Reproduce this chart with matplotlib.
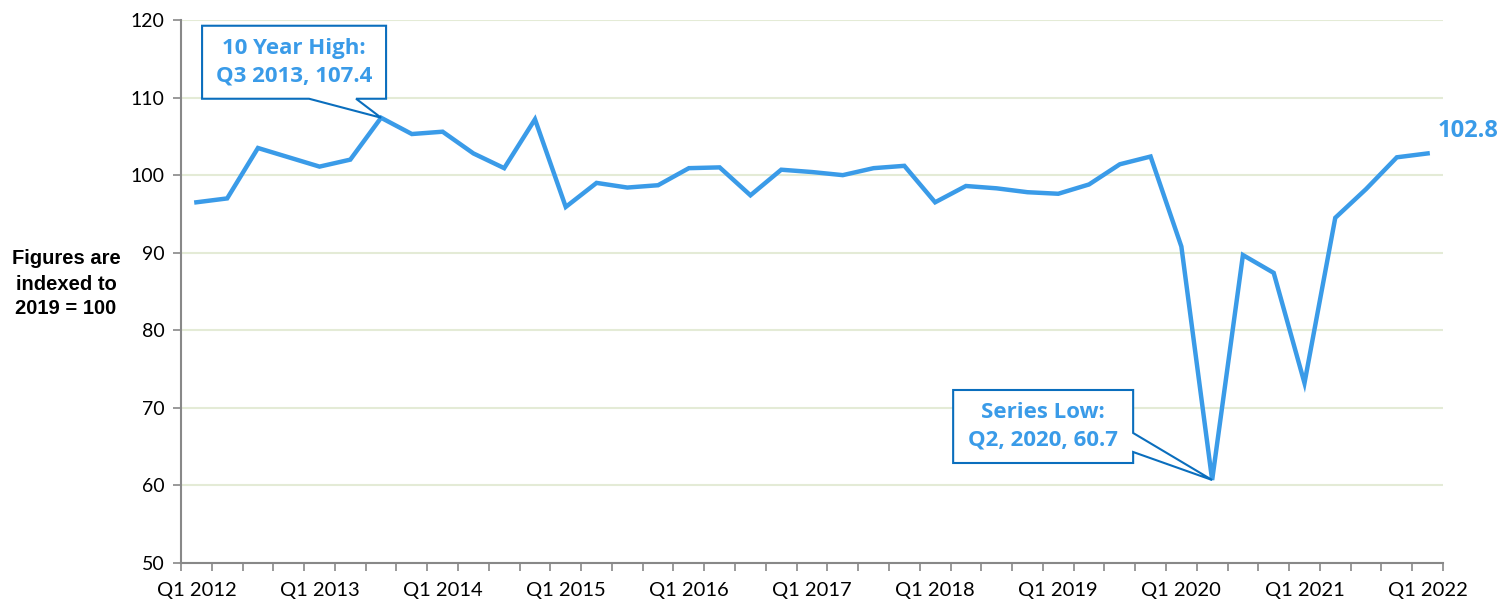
import matplotlib
matplotlib.use("Agg")
import matplotlib.pyplot as plt
import matplotlib.transforms as mtrans
from matplotlib.patches import Polygon
import numpy as np

# quarterly index, 2019 = 100
quarters = [f"Q{q} {y}" for y in range(2012, 2023) for q in range(1, 5)][:41]
values = [96.5, 97.0, 103.5, 102.3, 101.1, 102.0, 107.4, 105.3, 105.6, 102.8,
          100.9, 107.2, 95.9, 99.0, 98.4, 98.7, 100.9, 101.0, 97.4, 100.7,
          100.4, 100.0, 100.9, 101.2, 96.5, 98.6, 98.3, 97.8, 97.6, 98.8,
          101.4, 102.4, 90.8, 60.7, 89.7, 87.4, 73.2, 94.5, 98.2, 102.3, 102.8]
yticks = [50, 60, 70, 80, 90, 100, 110, 120]

line_col = "#3A9BE8"
box_col = "#0A6EBD"
text_col = "#3A9BE8"
grid_col = "#E4EBD6"
axis_col = "#888888"

fig = plt.figure(figsize=(15.11, 6.08), dpi=100)
ax = fig.add_axes([181 / 1511, 45 / 608, 1262 / 1511, 543 / 608])

x = np.arange(len(values))
ax.plot(x, values, color=line_col, lw=3.2, solid_joinstyle="miter", zorder=3)

ax.set_xlim(-0.5, len(values) - 0.5)
ax.set_ylim(50, 120)
ax.set_yticks(yticks)
ax.yaxis.grid(True, color=grid_col, lw=1.5)
ax.set_axisbelow(True)
for s in ["top", "right"]:
    ax.spines[s].set_visible(False)
for s in ["left", "bottom"]:
    ax.spines[s].set_color(axis_col)
    ax.spines[s].set_linewidth(1.5)

# tick marks between categories, labels on every Q1
ax.set_xticks(np.arange(len(values) + 1) - 0.5)
ax.set_xticklabels([])
ax.set_xticks(x[::4], minor=True)
ax.set_xticklabels([quarters[i] for i in x[::4]], minor=True,
                   fontsize=14.5, family="Lato")
ax.tick_params(axis="x", which="major", length=6, color=axis_col, width=1.2)
ax.tick_params(axis="x", which="minor", length=0, pad=14)
ax.tick_params(axis="y", length=6, color=axis_col, width=1.2, labelsize=14, pad=6)
for lab in ax.get_yticklabels():
    lab.set_family("Lato")

fig.text(66 / 1511, 1 - 284 / 608, "Figures are\nindexed to\n2019 = 100",
         ha="center", va="center", fontsize=14.5, fontweight="bold",
         family="Liberation Sans", linespacing=1.4)


def callout(i, text, center, shape):
    # shape: outline of box + pointer, in pixels relative to the data point
    tip = ax.transData.transform((x[i], values[i]))
    poly = Polygon([tip + np.array(p) for p in shape], closed=True,
                   transform=None, fc="white", ec=box_col, lw=1.5, zorder=5)
    fig.add_artist(poly)
    cx, cy = tip + np.array(center)
    fig.text(cx, cy, text, transform=mtrans.IdentityTransform(),
             ha="center", va="center", fontsize=16, fontweight="bold",
             family="Open Sans", color=text_col, linespacing=1.4, zorder=6)


callout(values.index(max(values)), "10 Year High:\nQ3 2013, 107.4", (-87, 55.5),
        [(-179, 19), (-179, 92), (5, 92), (5, 19), (-25, 19), (0, 0), (-72, 19)])
callout(values.index(min(values)), "Series Low:\nQ2, 2020, 60.7", (-169, 53.5),
        [(-259, 17), (-259, 90), (-79, 90), (-79, 47), (0, 0), (-79, 28), (-79, 17)])

ax.annotate(f"{values[-1]:.1f}", (x[-1], values[-1]), xytext=(7, 16),
            textcoords="offset points", fontsize=17, fontweight="bold",
            family="Open Sans", color=text_col, ha="left", va="center")

fig.savefig("out.png", dpi=100)
